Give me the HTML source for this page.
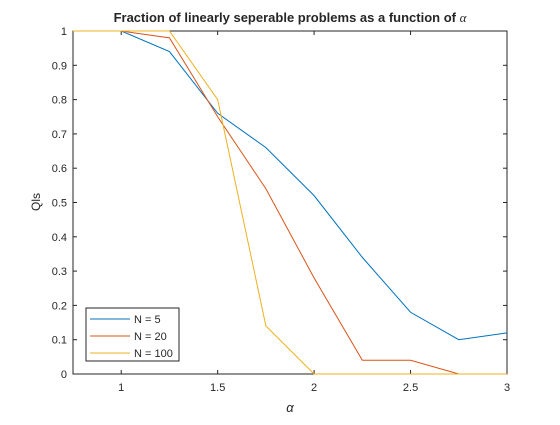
<!DOCTYPE html>
<html><head><meta charset="utf-8"><style>
body{margin:0;background:#fff;width:560px;height:420px;overflow:hidden}
svg text{font-family:"Liberation Sans",sans-serif;fill:#262626}
</style></head><body>
<svg id="chart" width="560" height="420" viewBox="0 0 560 420">
<rect width="560" height="420" fill="#fff"/>
<text x="290" y="22" text-anchor="middle" font-size="13" font-weight="bold" fill="#000">Fraction of linearly seperable problems as a function of <tspan font-family="Liberation Serif" font-style="italic" font-weight="normal">α</tspan></text>
<g id="plot"></g>
<text x="290" y="412" text-anchor="middle" font-size="13" font-family="Liberation Serif" font-style="italic">α</text>
<text transform="translate(40,202) rotate(-90)" text-anchor="middle" font-size="12">Qls</text>
</svg>
<script>
const alphas=[0.75,1,1.25,1.5,1.75,2,2.25,2.5,2.75,3];
const n5=[1,1,0.94,0.76,0.66,0.52,0.34,0.18,0.10,0.12];
const n20=[1,1,0.98,0.75,0.54,0.28,0.04,0.04,0,0];
const n100=[1,1,1,0.80,0.14,0,0,0,0,0];
const xTicks=[1,1.5,2,2.5,3];
const xTickLabels=["1","1.5","2","2.5","3"];
const yTicks=[0,0.1,0.2,0.3,0.4,0.5,0.6,0.7,0.8,0.9,1];
const yTickLabels=["0","0.1","0.2","0.3","0.4","0.5","0.6","0.7","0.8","0.9","1"];
const seriesNames=["N = 5","N = 20","N = 100"];
const L=73,R=507,T=31,B=374;
const X=v=>L+(v-0.75)/(3-0.75)*(R-L);
const Y=v=>B-v*(B-T);
const NS="http://www.w3.org/2000/svg";
const g=document.getElementById('plot');
function mk(t,a){const e=document.createElementNS(NS,t);for(const k in a)e.setAttribute(k,a[k]);return e;}
const cols=["#0072BD","#D95319","#EDB120"];
const box=mk('rect',{x:L,y:T,width:R-L,height:B-T,fill:'none',stroke:'#262626','stroke-width':1});


g.appendChild(box);
xTicks.forEach((v,i)=>{
  const x=X(v);
  g.appendChild(mk('line',{x1:x,x2:x,y1:B,y2:B-4,stroke:'#262626'}));
  g.appendChild(mk('line',{x1:x,x2:x,y1:T,y2:T+4,stroke:'#262626'}));
  const t=mk('text',{x:x,y:B+17,'text-anchor':'middle','font-size':11});
  t.textContent=xTickLabels[i];
  
  
  g.appendChild(t);
});
yTicks.forEach((v,i)=>{
  const y=Y(v);
  g.appendChild(mk('line',{x1:L,x2:L+4,y1:y,y2:y,stroke:'#262626'}));
  g.appendChild(mk('line',{x1:R,x2:R-4,y1:y,y2:y,stroke:'#262626'}));
  const t=mk('text',{x:L-6,y:y+4,'text-anchor':'end','font-size':11});
  t.textContent=yTickLabels[i];
  
  
  g.appendChild(t);
});
[n5,n20,n100].forEach((s,i)=>{
  const p=mk('polyline',{points:s.map((v,j)=>X(alphas[j])+','+Y(v)).join(' '),fill:'none',stroke:cols[i],'stroke-width':1});
  
  
  g.appendChild(p);
});
const lg=mk('g',{});


lg.appendChild(mk('rect',{x:86,y:308,width:93,height:53,fill:'#fff',stroke:'#262626'}));
seriesNames.forEach((n,i)=>{
  const y=319+i*17;
  lg.appendChild(mk('line',{x1:90,x2:130,y1:y,y2:y,stroke:cols[i]}));
  const t=mk('text',{x:134,y:y+4,'font-size':11,fill:'#000'});
  t.textContent=n;
  
  
  lg.appendChild(t);
});
g.appendChild(lg);
</script>
</body></html>
